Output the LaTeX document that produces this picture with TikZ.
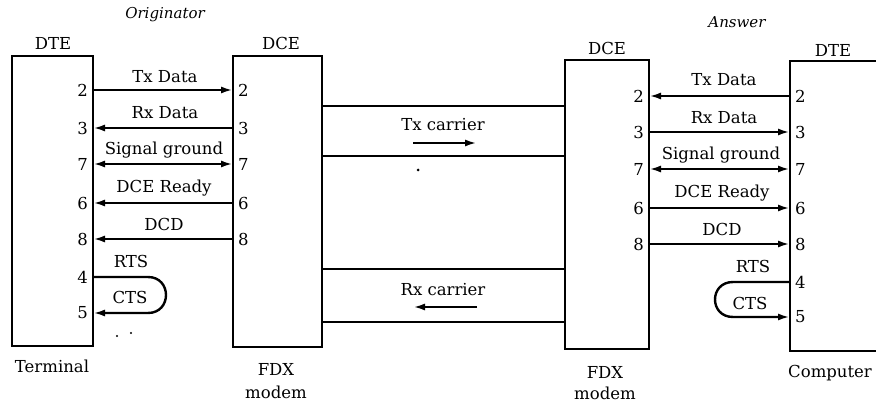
\documentclass[tikz,border=0pt]{standalone}
\usepackage{fontspec}
\setmainfont{DejaVu Serif}
\usetikzlibrary{arrows.meta}
\begin{document}
\begin{tikzpicture}[x=1pt,y=-1pt,
  box/.style={draw,line width=2.4pt,inner sep=0pt,outer sep=0pt},
  sig/.style={line width=2.4pt},
  carrier/.style={line width=1.9pt},
  tip/.style={-{Latex[length=12pt,width=7pt]}},
  dtip/.style={{Latex[length=12pt,width=7pt]}-{Latex[length=12pt,width=7pt]}},
  lbl/.style={font=\fontsize{16.5}{19}\selectfont,inner sep=0pt},
  pin/.style={font=\fontsize{16.5}{19}\selectfont,inner sep=0pt},
  head/.style={font=\fontsize{15}{17}\selectfont\itshape,inner sep=0pt}]
\useasboundingbox (0,0) rectangle (876,406);
% boxes
\draw[box] (12,56) rectangle (93,346);
\draw[box] (233,56) rectangle (322,347);
\draw[box] (565,60) rectangle (649,349);
\draw[box] (900,61) -- (790,61) -- (790,351) -- (900,351);
\coordinate (dteLe) at (93,0);
\coordinate (dceLw) at (233,0);
\coordinate (dceLe) at (322,0);
\coordinate (dceRw) at (565,0);
\coordinate (dceRe) at (649,0);
\coordinate (dteRw) at (790,0);
% headings
\node[head] (orig) at (165,15) {Originator};
\node[head] (ans) at (737,22) {Answer};
\node[lbl] (hdteL) at (53,43) {DTE};
\node[lbl] (hdceL) at (281,43) {DCE};
\node[lbl] (hdceR) at (607,48) {DCE};
\node[lbl] (hdteR) at (833,50) {DTE};
% bottom labels
\node[lbl] (term) at (52,366) {Terminal};
\node[lbl] (fdxL) at (276,369) {FDX};
\node[lbl] (modL) at (276,392) {modem};
\node[lbl] (fdxR) at (605,372) {FDX};
\node[lbl] (modR) at (605,393) {modem};
\node[lbl,anchor=west] (comp) at (788,373) {Computer};
% left side pins
\foreach \n/\y in {2/90,3/128,7/164,6/203,8/239,4/277,5/313}{
  \coordinate (La\n) at (dteLe |- 0,\y);
  \node[pin,anchor=east] (pLa\n) at (88,\y) {\n};
}
\foreach \n/\y in {2/90,3/128,7/164,6/203,8/239}{
  \coordinate (Lb\n) at (dceLw |- 0,\y);
  \node[pin,anchor=west] (pLb\n) at (238,\y) {\n};
}
\draw[sig,tip] (La2) -- (Lb2);
\draw[sig,tip] (Lb3) -- (La3);
\draw[sig,dtip] (La7) -- (Lb7);
\draw[sig,tip] (Lb6) -- (La6);
\draw[sig,tip] (Lb8) -- (La8);
\draw[sig,tip] (La4) -- (148,277) .. controls (172,277) and (172,313) .. (148,313) -- (La5);
\node[lbl] (lTx) at (165,77) {Tx Data};
\node[lbl] (lRx) at (165,113) {Rx Data};
\node[lbl] (lSg) at (164,150) {Signal ground};
\node[lbl] (lDr) at (164,188) {DCE Ready};
\node[lbl] (lDcd) at (164,224) {DCD};
\node[lbl] (lRts) at (131,261) {RTS};
\node[lbl] (lCts) at (130,297) {CTS};
% right side pins
\foreach \n/\y in {2/96,3/132,7/169,6/208,8/244}{
  \coordinate (Ra\n) at (dceRe |- 0,\y);
  \node[pin,anchor=east] (pRa\n) at (644,\y) {\n};
}
\foreach \n/\y in {2/96,3/132,7/169,6/208,8/244,4/282,5/317}{
  \coordinate (Rb\n) at (dteRw |- 0,\y);
  \node[pin,anchor=west] (pRb\n) at (795,\y) {\n};
}
\draw[sig,tip] (Rb2) -- (Ra2);
\draw[sig,tip] (Ra3) -- (Rb3);
\draw[sig,dtip] (Ra7) -- (Rb7);
\draw[sig,tip] (Ra6) -- (Rb6);
\draw[sig,tip] (Ra8) -- (Rb8);
\draw[sig,tip] (Rb4) -- (733,282) .. controls (709,282) and (709,317) .. (733,317) -- (Rb5);
\node[lbl] (rTx) at (724,80) {Tx Data};
\node[lbl] (rRx) at (724,118) {Rx Data};
\node[lbl] (rSg) at (721,155) {Signal ground};
\node[lbl] (rDr) at (722,193) {DCE Ready};
\node[lbl] (rDcd) at (722,229) {DCD};
\node[lbl] (rRts) at (753,266) {RTS};
\node[lbl] (rCts) at (750,303) {CTS};
% carriers
\foreach \i/\y in {1/106,2/156,3/269,4/322}{
  \coordinate (cA\i) at (dceLe |- 0,\y);
  \coordinate (cB\i) at (dceRw |- 0,\y);
  \draw[carrier] (cA\i) -- (cB\i);
}
\node[lbl] (txc) at (443,125) {Tx carrier};
\node[lbl] (rxc) at (443,290) {Rx carrier};
\coordinate (txa1) at (413,143);
\coordinate (txa2) at (477,143);
\coordinate (rxa1) at (477,307);
\coordinate (rxa2) at (413,307);
\draw[sig,tip] (txa1) -- (txa2);
\draw[sig,tip] (rxa1) -- (rxa2);
% stray dots
\fill (418,170) circle (1.5);
\fill (117,336) circle (1.2);
\fill (131,333) circle (1.2);
\end{tikzpicture}
\end{document}
